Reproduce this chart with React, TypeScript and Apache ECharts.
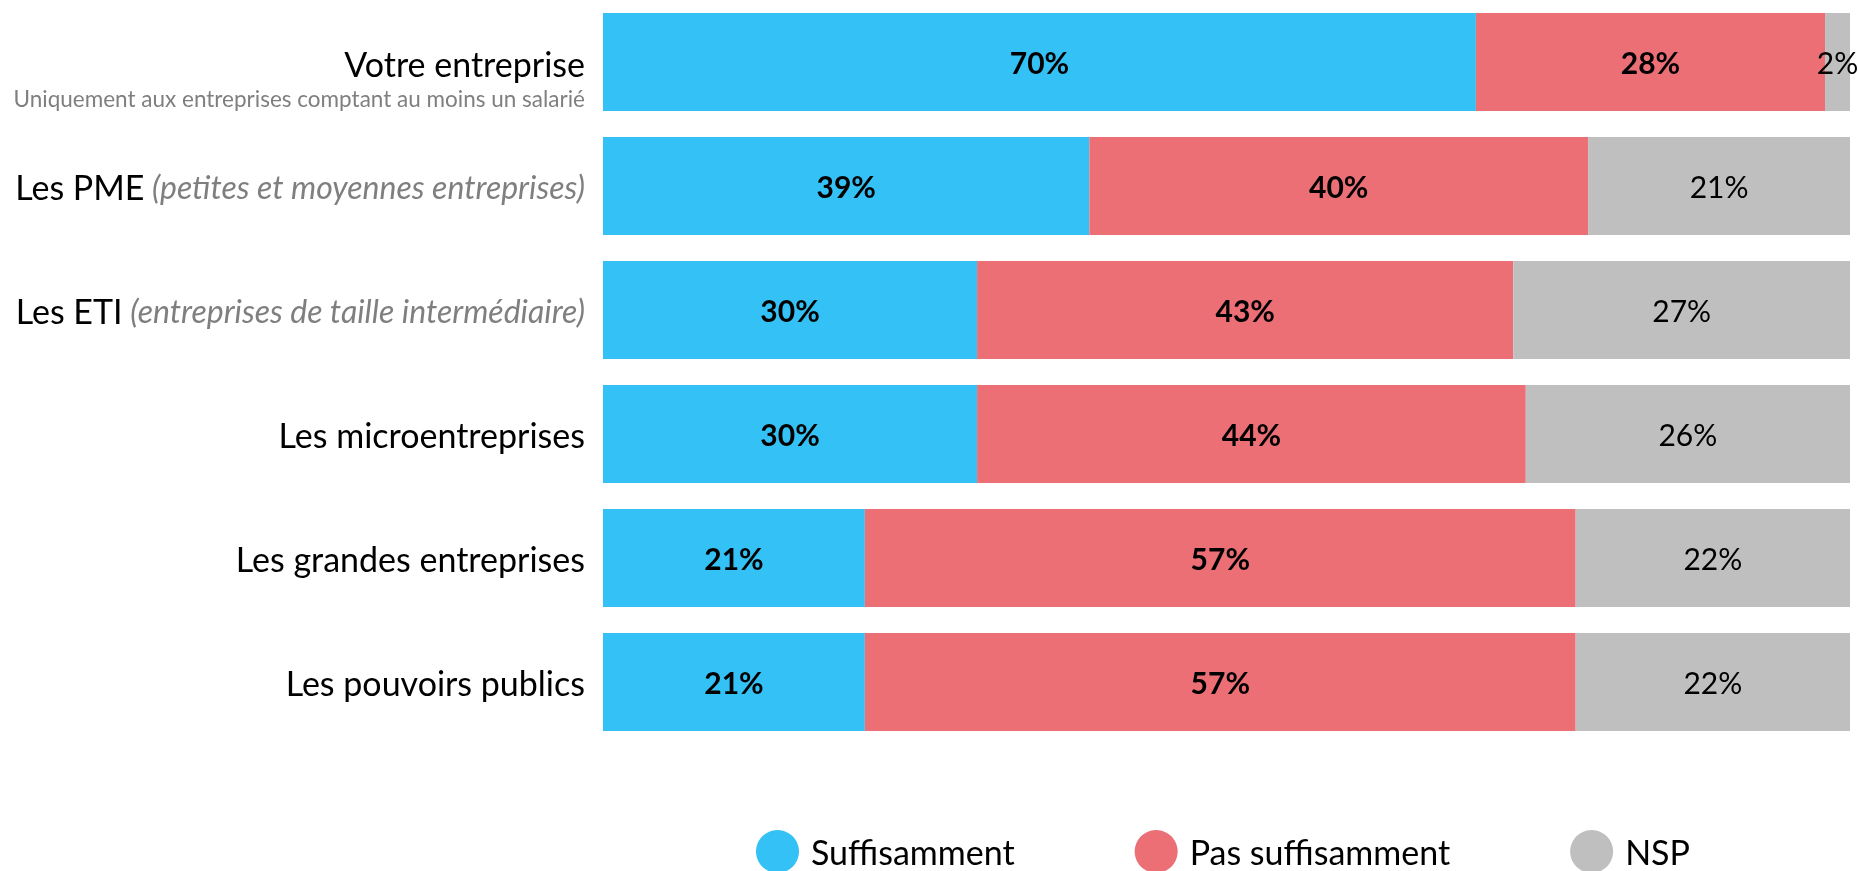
import React, { useEffect, useRef } from "react";
import * as echarts from "echarts";

const categories = [
  "Votre entreprise",
  "Les PME",
  "Les ETI",
  "Les microentreprises",
  "Les grandes entreprises",
  "Les pouvoirs publics",
];
const categoryNotes = [
  "",
  "(petites et moyennes entreprises)",
  "(entreprises de taille intermédiaire)",
  "",
  "",
  "",
];
const categorySubtitles = [
  "Uniquement aux entreprises comptant au moins un salarié",
  "",
  "",
  "",
  "",
  "",
];
const seriesNames = ["Suffisamment", "Pas suffisamment", "NSP"];
const suffisamment = [70, 39, 30, 30, 21, 21];
const pasSuffisamment = [28, 40, 43, 44, 57, 57];
const nsp = [2, 21, 27, 26, 22, 22];
const seriesColors = ["#34C1F5", "#EC6F76", "#BFBFBF"];

const FONT = "Lato, 'Open Sans', sans-serif";

export default function App() {
  const ref = useRef<HTMLDivElement>(null);
  useEffect(() => {
    if (!ref.current) return;
    const chart = echarts.init(ref.current, null, { renderer: "svg" });
    const values = [suffisamment, pasSuffisamment, nsp];
    const series = seriesNames.map((name, i) => ({
      name,
      type: "bar",
      stack: "total",
      barWidth: 98,
      data: values[i],
      itemStyle: { color: seriesColors[i] },
      label: {
        show: true,
        position: "inside",
        formatter: (p: any) => p.value + "%",
        fontFamily: FONT,
        fontSize: 30,
        fontWeight: i < 2 ? "bold" : "normal",
        color: "#000",
      },
    }));
    chart.setOption({
      animation: false,
      textStyle: { fontFamily: FONT },
      grid: { left: 603, right: 8, top: 0, height: 744, containLabel: false },
      xAxis: { type: "value", min: 0, max: 100, show: false },
      yAxis: {
        type: "category",
        inverse: true,
        data: categories,
        axisLine: { show: false },
        axisTick: { show: false },
        axisLabel: {
          margin: 18,
          align: "right",
          formatter: (value: string, index: number) => {
            const note = categoryNotes[index];
            const sub = categorySubtitles[index];
            if (sub) {
              return "{e| }\n{name|" + value + "}\n{sub|" + sub + "}";
            }
            return "{name|" + value + "}" + (note ? "{note| " + note + "}" : "");
          },
          rich: {
            e: { fontSize: 10, lineHeight: 32 },
            name: { fontFamily: FONT, fontSize: 34, color: "#000", lineHeight: 40 },
            note: {
              fontFamily: FONT,
              fontSize: 32,
              fontStyle: "italic",
              color: "#7F7F7F",
              lineHeight: 40,
            },
            sub: { fontFamily: FONT, fontSize: 22.5, color: "#7F7F7F", lineHeight: 30 },
          },
        },
      },
      legend: {
        left: 751,
        top: 825,
        icon: "circle",
        itemWidth: 43,
        itemHeight: 43,
        itemGap: 120,
        data: seriesNames,
        textStyle: {
          fontFamily: FONT,
          fontSize: 34,
          color: "#000",
          padding: [0, 0, 0, 7],
        },
      },
      series,
    });
    return () => chart.dispose();
  }, []);
  return (
    <div
      ref={ref}
      style={{ position: "fixed", left: 0, top: 0, width: 1858, height: 871 }}
    />
  );
}
